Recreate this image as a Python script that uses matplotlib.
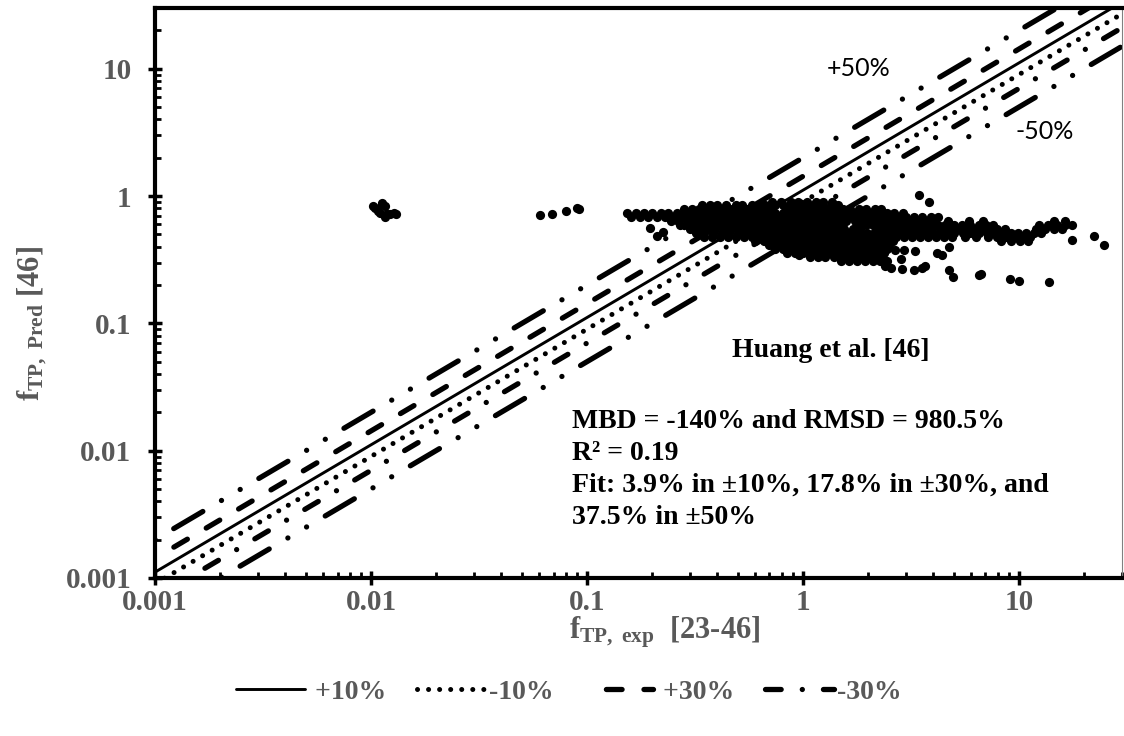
import matplotlib
matplotlib.use("Agg")
import matplotlib.pyplot as plt
from matplotlib.ticker import FixedLocator, LogLocator, NullFormatter

plt.rcParams['font.family'] = ['Liberation Serif', 'DejaVu Serif']
plt.rcParams['mathtext.fontset'] = 'custom'
plt.rcParams['mathtext.rm'] = 'Liberation Serif:bold'
plt.rcParams['mathtext.it'] = 'Liberation Serif:bold'
plt.rcParams['mathtext.bf'] = 'Liberation Serif:bold'

GRAY = '#595959'

# small group at f_exp ~ 0.01
grp1_exp = [0.0102, 0.0104, 0.0108, 0.0112, 0.0113, 0.0116, 0.0110, 0.0116, 0.0118, 0.0122, 0.0128, 0.0131]
grp1_pred = [0.84, 0.80, 0.77, 0.89, 0.86, 0.84, 0.74, 0.69, 0.72, 0.72, 0.73, 0.72]

# small group at f_exp ~ 0.07
grp2_exp = [0.0603, 0.069, 0.0796, 0.090, 0.0916]
grp2_pred = [0.708, 0.72, 0.758, 0.80, 0.79]

# main body of points, stored row by row (pred level -> exp values)
core_levels = [0.90, 0.85, 0.79, 0.735, 0.685, 0.635, 0.59, 0.55,
               0.51, 0.476, 0.442, 0.411, 0.382, 0.356, 0.331, 0.308]
core_exp = [
    [0.72, 0.79, 0.88, 0.95, 1.04, 1.15, 1.24, 1.37],
    [0.34, 0.37, 0.40, 0.44, 0.49, 0.52, 0.58, 0.63, 0.67, 0.74, 0.81, 0.87, 0.96, 1.03, 1.13,
     1.22, 1.35, 1.46],
    [0.28, 0.305, 0.33, 0.36, 0.395, 0.42, 0.46, 0.51, 0.55, 0.60, 0.66, 0.71, 0.85, 0.91, 1.0,
     1.08, 1.17, 1.29, 1.39, 1.53, 1.65, 1.81, 1.95, 2.15, 2.3],
    [0.153, 0.168, 0.184, 0.20, 0.22, 0.238, 0.262, 0.283, 0.31, 0.34, 0.372, 0.405, 0.445, 0.48,
     0.525, 0.57, 0.625, 0.68, 0.74, 0.805, 0.87, 0.955, 1.04, 1.12, 1.23, 1.35, 1.46, 1.6, 1.72,
     1.89, 2.05, 2.22, 2.44, 2.64, 2.9],
    [0.16, 0.176, 0.192, 0.21, 0.23, 0.25, 0.272, 0.30, 0.325, 0.355, 0.39, 0.425, 0.46, 0.50,
     0.55, 0.60, 0.65, 0.71, 0.77, 0.84, 0.915, 0.99, 1.08, 1.18, 1.29, 1.4, 1.52, 1.67, 1.8, 1.97,
     2.13, 2.33, 2.55, 2.75, 3.0, 3.28, 3.55, 3.9, 4.2],
    [0.245, 0.265, 0.29, 0.315, 0.345, 0.375, 0.405, 0.44, 0.48, 0.525, 0.57, 0.62, 0.68, 0.74,
     0.80, 0.875, 0.95, 1.04, 1.13, 1.24, 1.34, 1.47, 1.58, 1.74, 1.87, 2.06, 2.22, 2.44, 2.64,
     2.9, 3.14, 3.43, 3.7, 4.05, 4.7, 5.9, 6.8, 14.5, 16.3],
    [0.27, 0.295, 0.32, 0.35, 0.385, 0.415, 0.455, 0.495, 0.54, 0.59, 0.645, 0.70, 0.765, 0.83,
     0.905, 0.985, 1.07, 1.17, 1.27, 1.39, 1.51, 1.79, 1.95, 2.12, 2.32, 2.52, 2.75, 3.0, 3.25,
     3.55, 3.86, 4.2, 4.57, 5.0, 5.45, 5.92, 6.5, 7.05, 7.6, 12.4, 13.6, 15.0, 16.4, 17.6],
    [0.30, 0.33, 0.36, 0.39, 0.43, 0.465, 0.51, 0.555, 0.61, 0.66, 0.72, 0.785, 0.855, 0.93, 1.01,
     1.1, 1.2, 1.31, 1.43, 1.55, 1.7, 1.84, 2.2, 2.38, 2.6, 2.84, 3.08, 3.36, 3.65, 3.97, 4.35,
     4.7, 5.15, 5.6, 6.1, 6.65, 7.25, 7.9, 8.6, 12.0, 13.2, 14.6, 15.9],
    [0.32, 0.35, 0.385, 0.42, 0.455, 0.50, 0.545, 0.595, 0.65, 0.71, 0.77, 0.84, 0.915, 0.995,
     1.08, 1.18, 1.28, 1.4, 1.52, 1.66, 1.81, 1.97, 2.14, 2.34, 2.54, 2.77, 3.0, 3.28, 3.57, 3.9,
     4.25, 4.62, 5.03, 5.5, 5.95, 6.5, 7.1, 7.7, 8.4, 9.15, 9.95, 10.8, 11.7, 12.6],
    [0.35, 0.38, 0.415, 0.45, 0.49, 0.535, 0.58, 0.635, 0.69, 0.75, 0.82, 0.89, 0.97, 1.06, 1.15,
     1.25, 1.37, 1.48, 1.62, 1.76, 1.91, 2.09, 2.27, 2.48, 2.7, 2.93, 3.2, 3.5, 3.8, 4.15, 4.5,
     4.9, 5.6, 6.3, 7.2, 7.9, 8.7, 9.5, 10.4, 11.3],
    [0.60, 0.66, 0.72, 0.78, 0.85, 0.93, 1.01, 1.1, 1.2, 1.31, 1.43, 1.56, 1.7, 1.85, 2.02, 2.2,
     2.4, 2.6, 8.3, 9.2, 10.1, 11.0],
    [0.70, 0.76, 0.83, 0.90, 0.98, 1.07, 1.16, 1.27, 1.38, 1.5, 1.64, 1.78, 1.94, 2.12, 2.3, 2.5],
    [0.74, 0.81, 0.88, 0.96, 1.04, 1.13, 1.24, 1.35, 1.47, 1.6, 1.74, 1.9, 2.07, 2.25, 2.45],
    [0.84, 0.92, 1.0, 1.09, 1.19, 1.3, 1.42, 1.55, 1.69, 1.84, 2.0, 2.18, 2.38],
    [1.08, 1.17, 1.27, 1.39, 1.51, 1.65, 1.79, 1.95, 2.13, 2.32],
    [1.5, 1.63, 1.78, 1.94, 2.1, 2.28, 2.45],
]

# scattered points around the main body
stray_exp = [0.196, 0.21, 0.226, 3.44, 3.84, 22.3, 24.7, 17.6, 4.19, 4.4, 4.75, 4.97, 4.75,
             6.5, 6.7, 9.1, 10.0, 13.8, 3.55, 3.66, 2.87, 3.25, 2.41, 2.66, 2.95, 3.3, 2.85,
             2.41, 2.56, 0.85, 0.96]
stray_pred = [0.557, 0.486, 0.523, 1.02, 0.90, 0.49, 0.41, 0.453, 0.36, 0.347, 0.261, 0.232,
              0.40, 0.239, 0.245, 0.225, 0.215, 0.213, 0.273, 0.28, 0.266, 0.262, 0.38, 0.38,
              0.38, 0.37, 0.32, 0.28, 0.273, 0.37, 0.345]

# error bands: pred = exp / (1 - e) above, pred = exp * (1 - e) below
band_names = ['+10%', '-10%', '+30%', '-30%', '+50%', '-50%']
band_factor = [1 / 0.9, 0.9, 1 / 0.7, 0.7, 1 / 0.5, 0.5]
line_x = [0.001, 30]

tick_vals = [0.001, 0.01, 0.1, 1, 10]
tick_text = ['0.001', '0.01', '0.1', '1', '10']

band_style = {
    '+10%': dict(linestyle='-', lw=2.1),
    '-10%': dict(linestyle=(0, (0.01, 2.2)), lw=3.6),
    '+30%': dict(linestyle=(2.97, (2.97, 4.15)), lw=3.8),
    '-30%': dict(linestyle=(0, (2.97, 4.0, 0.01, 4.0)), lw=3.8),
    '+50%': dict(linestyle=(14.6, (6.4, 4.1, 0.01, 4.1, 0.01, 4.1)), lw=3.8),
    '-50%': dict(linestyle=(0, (6.4, 4.1, 0.01, 4.1, 0.01, 4.1)), lw=3.8),
}

fig = plt.figure(figsize=(11.24, 7.36), dpi=100)
ax = fig.add_axes([0.1379, 0.2147, 0.8603, 0.7744])

for name, k in zip(band_names, band_factor):
    if name in ('+10%', '+30%'):
        lbl = ' ' + name
    elif name in ('-10%', '-30%'):
        lbl = name
    else:
        lbl = '_nolegend_'
    ax.plot(line_x, [k * v for v in line_x], color='black', dash_capstyle='round',
            solid_capstyle='round', label=lbl, zorder=2, **band_style[name])

core_x = [v for row in core_exp for v in row]
core_y = [lev for lev, row in zip(core_levels, core_exp) for v in row]

for xs, ys in [(grp1_exp, grp1_pred), (grp2_exp, grp2_pred), (core_x, core_y), (stray_exp, stray_pred)]:
    ax.scatter(xs, ys, s=44, color='black', linewidths=0, zorder=3)

ax.set_xscale('log')
ax.set_yscale('log')
ax.set_xlim(0.001, 30)
ax.set_ylim(0.001, 30)

for axis in (ax.xaxis, ax.yaxis):
    axis.set_major_locator(FixedLocator(tick_vals))
    axis.set_minor_locator(LogLocator(base=10, subs=range(2, 10), numticks=20))
    axis.set_minor_formatter(NullFormatter())
ax.set_xticklabels(tick_text)
ax.set_yticklabels(tick_text)

ax.tick_params(which='major', direction='inout', length=10, width=2.5,
               labelsize=21, labelcolor=GRAY)
ax.tick_params(axis='x', which='major', pad=3)
ax.tick_params(axis='y', which='major', pad=12)
ax.tick_params(which='minor', direction='in', length=4, width=2)
for lab in ax.get_xticklabels() + ax.get_yticklabels():
    lab.set_fontweight('bold')

for side in ('left', 'bottom', 'top'):
    ax.spines[side].set_linewidth(3)
ax.spines['right'].set_linewidth(0.8)
ax.spines['right'].set_color('#808080')

ax.text(1.82, 10.0, '+50%', family='Lato', fontsize=18, ha='center', va='center')
ax.text(13.2, 3.19, '-50%', family='Lato', fontsize=18, ha='center', va='center')

ax.text(0.699, 0.388, 'Huang et al. [46]', transform=ax.transAxes, fontsize=20,
        fontweight='bold', ha='center', va='baseline')
stats = ['MBD = -140% and RMSD = 980.5%',
         'R\u00b2 = 0.19',
         'Fit: 3.9% in \u00b110%, 17.8% in \u00b130%, and',
         '37.5% in \u00b150%']
for line, yy in zip(stats, [0.263, 0.207, 0.151, 0.0947]):
    ax.text(0.431, yy, line, transform=ax.transAxes, fontsize=20, fontweight='bold',
            ha='left', va='baseline')

fig.text(0.0285, 0.56, r'$f_{TP,\ Pred}$ [46]', rotation=90, fontsize=22,
         fontweight='bold', color=GRAY, ha='center', va='center')
fig.text(0.591, 0.141, r'$f_{TP,\ exp}$  [23-46]', fontsize=22,
         fontweight='bold', color=GRAY, ha='center', va='center')

leg = fig.legend(loc='center', bbox_to_anchor=(0.506, 0.06), ncol=4, frameon=False,
                 prop={'family': 'Liberation Serif', 'weight': 'bold', 'size': 20},
                 handlelength=2.5, handletextpad=0.1, columnspacing=1.1)
for t in leg.get_texts():
    t.set_color(GRAY)

fig.savefig('out.png', dpi=100)
